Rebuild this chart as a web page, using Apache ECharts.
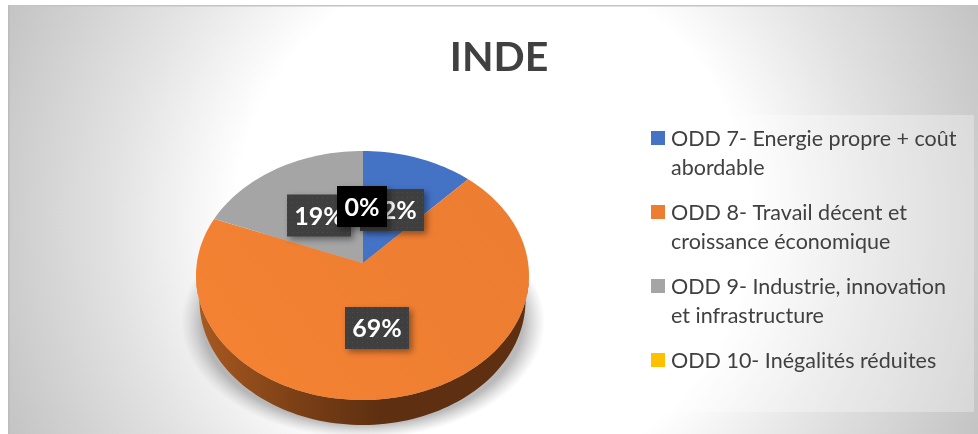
<!DOCTYPE html>
<html>
<head>
<meta charset="utf-8">
<style>
  html, body { margin: 0; padding: 0; background: #fff; }
  #chart { width: 978px; height: 434px; }
</style>
<script src="https://cdn.jsdelivr.net/npm/echarts@6/dist/echarts.min.js"></script>
</head>
<body>
<div id="chart"></div>
<script>
const chartTitle = "INDE";
const categories = [
  "ODD 7- Energie propre + coût\nabordable",
  "ODD 8- Travail décent et\ncroissance économique",
  "ODD 9- Industrie, innovation\net infrastructure",
  "ODD 10- Inégalités réduites"
];
const values = [12, 69, 19, 0];
const colors = ["#4472c4", "#ed7d31", "#a5a5a5", "#ffc000"];

// label box centres and legend rows, kept apart from the data
const labelBoxes = [[392, 210], [377, 328], [319, 215.5], [362, 206.5]];
const legendRows = [131, 205, 279, 353];
const font = "Lato, 'Open Sans', sans-serif";

// perspective disc: apex is above the ellipse centre
const apex = { x: 363, y: 263 };
const top3d = { cx: 362.5, cy: 275.5, rx: 166.5, ry: 124.5 };
const bottom3d = { cx: 362.5, cy: 300.5, rx: 163, ry: 124.5 };
const tilt = 0.748;

const total = values.reduce(function (a, b) { return a + b; }, 0);
const starts = [];
values.reduce(function (sum, v, i) { starts[i] = sum; return sum + v; }, 0);

// where a ray from the apex at pie angle a hits the top ellipse
function rimPoint(a) {
  const dx = Math.sin(a), dy = -tilt * Math.cos(a);
  const ox = apex.x - top3d.cx, oy = apex.y - top3d.cy;
  const A = (dx * dx) / (top3d.rx * top3d.rx) + (dy * dy) / (top3d.ry * top3d.ry);
  const B = 2 * ((ox * dx) / (top3d.rx * top3d.rx) + (oy * dy) / (top3d.ry * top3d.ry));
  const C = (ox * ox) / (top3d.rx * top3d.rx) + (oy * oy) / (top3d.ry * top3d.ry) - 1;
  const p = (-B + Math.sqrt(B * B - 4 * A * C)) / (2 * A);
  return [apex.x + p * dx, apex.y + p * dy];
}

function sliceAngles(start, value) {
  const steps = Math.max(2, Math.ceil(value * 2));
  const list = [];
  for (let i = 0; i <= steps; i++) {
    list.push(((start + (value * i) / steps) / total) * Math.PI * 2);
  }
  return list;
}

function renderWall(params, api) {
  const rim = sliceAngles(api.value(0), api.value(1)).map(rimPoint).filter(function (p) {
    return p[1] >= top3d.cy;
  });
  if (rim.length < 2) return null;
  const under = rim.map(function (p) {
    const ux = (p[0] - top3d.cx) / top3d.rx, uy = (p[1] - top3d.cy) / top3d.ry;
    return [bottom3d.cx + ux * bottom3d.rx, bottom3d.cy + uy * bottom3d.ry];
  }).reverse();
  return {
    type: "polygon",
    shape: { points: rim.concat(under) },
    style: {
      fill: {
        type: "linear", x: 196, y: 0, x2: 529, y2: 0, global: true,
        colorStops: [
          { offset: 0, color: "#a95a20" },
          { offset: 0.3, color: "#7c4016" },
          { offset: 0.55, color: "#5e3011" },
          { offset: 1, color: "#5e3011" }
        ]
      }
    }
  };
}

function renderSlice(params, api) {
  const value = api.value(1);
  if (!value) return null;
  const rim = sliceAngles(api.value(0), value).map(rimPoint);
  const fill = params.dataIndex === 1 ? {
    type: "linear", x: 500, y: 180, x2: 250, y2: 380, global: true,
    colorStops: [
      { offset: 0, color: "#ed7d31" },
      { offset: 0.4, color: "#ee7e31" },
      { offset: 1, color: "#f48233" }
    ]
  } : colors[params.dataIndex];
  return {
    type: "polygon",
    shape: { points: [[apex.x, apex.y]].concat(rim) },
    style: { fill: fill }
  };
}

function dotPattern() {
  const c = document.createElement("canvas");
  c.width = 5; c.height = 5;
  const g = c.getContext("2d");
  g.fillStyle = "#3f3f3f";
  g.fillRect(0, 0, 5, 5);
  g.fillStyle = "#4d4d4d";
  g.fillRect(2, 2, 1, 1);
  return c;
}
const dots = dotPattern();

function renderLabel(params, api) {
  const box = labelBoxes[params.dataIndex];
  const value = api.value(1);
  const w = value === 0 ? 50 : 64, h = value === 0 ? 41 : 42;
  return {
    type: "group",
    children: [
      {
        type: "rect",
        shape: { x: box[0] - w / 2, y: box[1] - h / 2, width: w, height: h },
        style: {
          fill: value === 0 ? "#000" : { image: dots, repeat: "repeat" },
          shadowBlur: 6, shadowOffsetX: 3, shadowOffsetY: 3, shadowColor: "rgba(0,0,0,0.4)"
        }
      },
      {
        type: "text",
        x: box[0], y: box[1] + 1,
        style: {
          text: value + "%", fill: "#fff", font: "bold 25px " + font,
          textAlign: "center", textVerticalAlign: "middle"
        }
      }
    ]
  };
}

const sliceRows = values.map(function (v, i) { return [starts[i], v]; });

const legendGraphics = [];
categories.forEach(function (name, i) {
  legendGraphics.push({
    type: "rect", z: 5,
    shape: { x: 651, y: legendRows[i], width: 14, height: 14 },
    style: { fill: colors[i] }
  });
  legendGraphics.push({
    type: "text", z: 5, x: 671, y: legendRows[i] - 7,
    style: { text: name, fill: "#404040", font: "21.5px " + font, lineHeight: 29.5 }
  });
});

const chart = echarts.init(document.getElementById("chart"));
chart.setOption({
  animation: false,
  title: {
    text: chartTitle, left: 494, top: 32, textAlign: "center",
    textStyle: { color: "#404040", fontFamily: font, fontWeight: "bold", fontSize: 41 }
  },
  graphic: [
    { type: "rect", z: -10, shape: { x: 8, y: 5, width: 970, height: 429 },
      style: {
        fill: {
          type: "radial", x: 493, y: 220, r: 560, global: true,
          colorStops: [
            { offset: 0, color: "#ffffff" },
            { offset: 0.46, color: "#ffffff" },
            { offset: 0.68, color: "#e2e2e2" },
            { offset: 0.96, color: "#c2c2c2" },
            { offset: 1, color: "#bebebe" }
          ]
        }
      } },
    { type: "rect", z: -9, shape: { x: 8, y: 5, width: 970, height: 1.5 }, style: { fill: "#c4c4c4" } },
    { type: "rect", z: -9, shape: { x: 8, y: 5, width: 1.5, height: 429 }, style: { fill: "#bcbcbc" } },
    // floor shadow under the disc, squashed circle so the gradient follows the ellipse
    { type: "circle", z: -8, x: 363, y: 322, scaleY: 0.64, shape: { cx: 0, cy: 0, r: 182 },
      style: {
        fill: {
          type: "radial", x: 0, y: 0, r: 182, global: true,
          colorStops: [
            { offset: 0, color: "rgba(140,140,140,0.6)" },
            { offset: 0.88, color: "rgba(140,140,140,0.6)" },
            { offset: 1, color: "rgba(170,170,170,0)" }
          ]
        }
      } },
    { type: "rect", z: -7, shape: { x: 638, y: 115, width: 336, height: 297 },
      style: { fill: "rgba(255,255,255,0.3)" } }
  ].concat(legendGraphics),
  series: [
    { type: "custom", coordinateSystem: "none", z: 2, data: sliceRows, renderItem: renderWall, silent: true },
    { type: "custom", coordinateSystem: "none", z: 3, data: sliceRows, renderItem: renderSlice, silent: true },
    { type: "custom", coordinateSystem: "none", z: 4, data: sliceRows, renderItem: renderLabel, silent: true }
  ]
});
</script>
</body>
</html>
